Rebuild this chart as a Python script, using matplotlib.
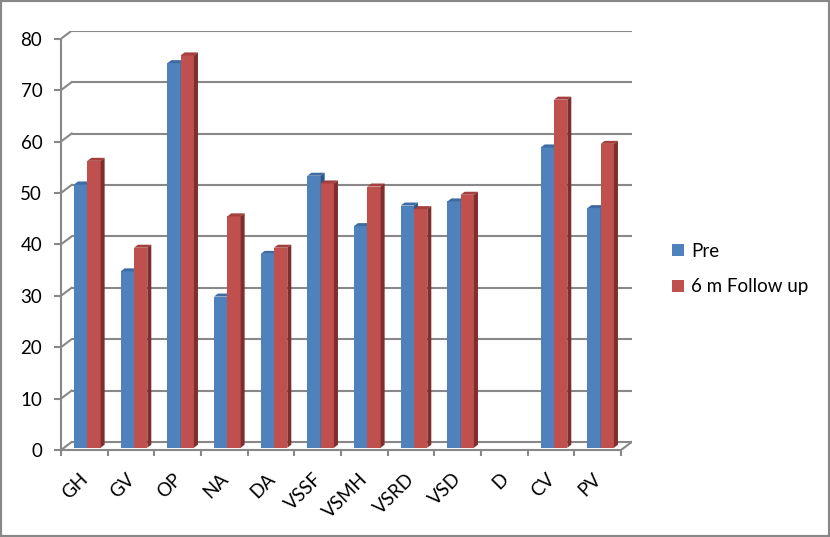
import matplotlib
matplotlib.use('Agg')
import matplotlib.pyplot as plt
from matplotlib.patches import Polygon, Rectangle
import matplotlib.transforms as mtransforms

categories = ['GH', 'GV', 'OP', 'NA', 'DA', 'VSSF', 'VSMH', 'VSRD', 'VSD', 'D', 'CV', 'PV']
pre = [51.2, 34.3, 74.8, 29.4, 37.7, 52.9, 43.1, 47.1, 47.9, 0, 58.4, 46.6]
follow = [55.8, 38.9, 76.3, 45.0, 38.9, 51.4, 50.8, 46.4, 49.2, 0, 67.7, 59.1]
series_names = ['Pre', '6 m Follow up']
yticks = list(range(0, 81, 10))

plt.rcParams['font.family'] = ['Lato', 'DejaVu Sans']

W, H = 830, 537
fig = plt.figure(figsize=(W / 100, H / 100), dpi=100)
fig.patch.set_facecolor('white')

GRAY = '#888888'
FS = 13.5

# layout in pixels
px_left, px_right, px_bottom, px_top = 61, 631.7, 450, 30.7
dxp, dyp = 10.7, 8.0          # back wall offset (px)
n = len(categories)
ymax = 80
sx = (px_right - px_left - dxp) / n
sy = (px_bottom - px_top - dyp) / ymax
DX, DY = dxp / sx, dyp / sy
OX, OY = 3.0 / sx, 2.3 / sy   # bar front offset
BX, BY = 4.0 / sx, 3.0 / sy   # bar depth
BW = 13.3 / sx                # bar width

ax = fig.add_axes([px_left / W, 1 - px_bottom / H,
                   (px_right - px_left) / W, (px_bottom - px_top) / H])
ax.set_xlim(0, n + DX)
ax.set_ylim(0, ymax + DY)
ax.set_facecolor('none')

# walls / gridlines
for v in yticks:
    ax.plot([DX, n + DX], [v + DY, v + DY], color=GRAY, lw=1.5, zorder=1,
            solid_capstyle='butt')
    ax.plot([0, DX], [v, v + DY], color=GRAY, lw=1.5, zorder=1)
ax.plot([n, n + DX], [0, DY], color=GRAY, lw=1.5, zorder=1)

series = [pre, follow]
fronts = ['#4F81BD', '#C0504D']
tops = ['#3D6BA3', '#A33F3C']
sides = ['#2E5687', '#7E2E2C']

handles = []
for s, vals in enumerate(series):
    xs = [i + 0.5 + OX - BW + s * BW for i in range(n)]
    bc = ax.bar(xs, vals, width=BW, bottom=OY, align='edge',
                color=fronts[s], linewidth=0, zorder=3 + 2 * s)
    handles.append(bc)
    for i, v in enumerate(vals):
        if v <= 0:
            bc.patches[i].set_visible(False)
            continue
        x0 = xs[i]
        x1 = x0 + BW
        top = Polygon([(x0, v + OY), (x0 + BX, v + OY + BY), (x1 + BX, v + OY + BY), (x1, v + OY)],
                      closed=True, facecolor=tops[s], edgecolor='none', zorder=3 + 2 * s)
        side = Polygon([(x1, OY), (x1 + BX, OY + BY), (x1 + BX, v + OY + BY), (x1, v + OY)],
                       closed=True, facecolor=sides[s], edgecolor='none', zorder=3 + 2 * s)
        ax.add_patch(top)
        ax.add_patch(side)

# axes
for sp in ['top', 'right']:
    ax.spines[sp].set_visible(False)
ax.spines['left'].set_bounds(0, ymax)
ax.spines['bottom'].set_bounds(0, n)
for sp in ['left', 'bottom']:
    ax.spines[sp].set_color(GRAY)
    ax.spines[sp].set_linewidth(1.5)
    ax.spines[sp].set_zorder(2)

ax.set_yticks(yticks)
ax.set_yticklabels([str(v) for v in yticks])
ax.tick_params(axis='y', direction='out', length=5, width=1.5, color=GRAY,
               pad=8.5, labelsize=FS, labelcolor='black')
ax.set_xticks(range(n + 1))
ax.set_xticklabels([])
ax.tick_params(axis='x', direction='out', length=4.5, width=1.5, color=GRAY)

trans = mtransforms.offset_copy(ax.get_xaxis_transform(), fig=fig,
                                x=1.0 / 100, y=-26 / 100, units='inches')
for i, lab in enumerate(categories):
    ax.text(i + 0.5, 0, lab, transform=trans, rotation=45, ha='right', va='center',
            rotation_mode='anchor', fontsize=FS, color='black')

leg = fig.legend([h.patches[0] for h in handles], series_names,
                 loc='center left', bbox_to_anchor=(672 / W, 1 - 269 / H),
                 frameon=False, fontsize=FS, handlelength=0.65, handleheight=0.65,
                 handletextpad=0.35, labelspacing=1.0, borderpad=0, borderaxespad=0)

fig.patches.append(Rectangle((0, 0), 1, 1, transform=fig.transFigure, fill=False,
                             edgecolor=GRAY, linewidth=3.0, zorder=10))

fig.savefig('out.png', dpi=100, facecolor='white')
